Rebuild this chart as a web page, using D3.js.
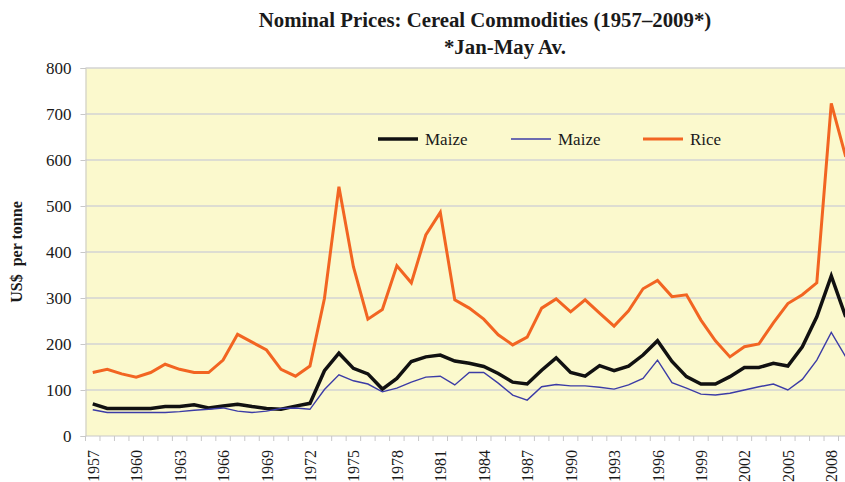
<!DOCTYPE html>
<html>
<head>
<meta charset="utf-8">
<script src="https://cdn.jsdelivr.net/npm/d3@7/dist/d3.min.js"></script>
<style>
  html, body { margin: 0; padding: 0; background: #fff; }
  svg { display: block; }
  text { font-family: "Liberation Serif", "Times New Roman", serif; fill: #1a1a1a; }
</style>
</head>
<body>
<svg id="chart" width="845" height="482"></svg>
<script>
// Annual nominal prices, US$ per tonne (2009 = Jan–May average)
const years = d3.range(1957, 2010);

const maizeA = [70, 60, 60, 60, 60, 64, 64, 68, 61, 65, 69, 64, 60, 58, 65, 71, 142, 180, 147, 135,
  102, 125, 162, 172, 176, 163, 158, 151, 136, 117, 113, 143, 170, 138, 130, 153, 142, 152, 176, 207,
  162, 129, 113, 113, 129, 149, 149, 158, 152, 194, 259, 348, 259];

const maizeB = [57, 51, 51, 51, 51, 51, 53, 56, 58, 61, 54, 51, 54, 60, 61, 58, 101, 133, 120, 113,
  96, 104, 117, 128, 130, 111, 138, 138, 115, 89, 78, 107, 112, 109, 109, 106, 102, 111, 125, 165,
  116, 104, 91, 89, 93, 100, 107, 113, 100, 123, 165, 225, 172];

const rice = [138, 145, 135, 128, 138, 156, 145, 138, 138, 165, 221, 204, 187, 145, 130, 152, 299, 542, 368, 254,
  275, 370, 333, 437, 486, 296, 278, 254, 220, 198, 215, 278, 298, 270, 296, 267, 239, 272, 320, 338,
  303, 307, 252, 207, 172, 194, 200, 246, 288, 307, 333, 723, 607];

const yTicks = [0, 100, 200, 300, 400, 500, 600, 700, 800];
const xTickLabels = years.filter(y => (y - 1957) % 3 === 0 && y <= 2008);

const seriesNames = ["Maize", "Maize", "Rice"];
const seriesColors = ["#111111", "#3c3ca6", "#f26522"];

const svg = d3.select("#chart");
const plot = { left: 85.5, top: 68, right: 853, bottom: 436 };

const x = d3.scaleBand().domain(years).range([plot.left, plot.right]).padding(0);
const y = d3.scaleLinear().domain([0, 800]).range([plot.bottom, plot.top]);
const cx = d => x(d) + x.bandwidth() / 2;

// plot background
svg.append("rect")
  .attr("x", plot.left).attr("y", plot.top)
  .attr("width", plot.right - plot.left).attr("height", plot.bottom - plot.top)
  .attr("fill", "#fbf9cd");

// horizontal gridlines
svg.append("g")
  .selectAll("line")
  .data(yTicks.filter(t => t > 0))
  .join("line")
  .attr("x1", plot.left).attr("x2", plot.right)
  .attr("y1", d => y(d)).attr("y2", d => y(d))
  .attr("stroke", "#d3d3d3").attr("stroke-width", 1.5);

// y axis
const yAxis = svg.append("g")
  .attr("transform", `translate(${plot.left},0)`)
  .call(d3.axisLeft(y).tickValues(yTicks).tickSize(5).tickPadding(9).tickFormat(d3.format("d")));
yAxis.select(".domain").attr("stroke", "#c8c8c8");
yAxis.selectAll(".tick line").attr("stroke", "#c8c8c8");
yAxis.selectAll(".tick text")
  .attr("font-size", 17).attr("fill", "#1a1a1a")
  .style("font-family", '"Liberation Serif", serif');

// x axis: ticks on band edges, labels every third year
const xAxisG = svg.append("g");
xAxisG.append("line")
  .attr("x1", plot.left).attr("x2", plot.right)
  .attr("y1", plot.bottom).attr("y2", plot.bottom)
  .attr("stroke", "#c8c8c8");
xAxisG.selectAll("line.tick")
  .data(years.concat([2010]))
  .join("line")
  .attr("class", "tick")
  .attr("x1", d => d === 2010 ? plot.right : x(d))
  .attr("x2", d => d === 2010 ? plot.right : x(d))
  .attr("y1", plot.bottom).attr("y2", plot.bottom + 5)
  .attr("stroke", "#c8c8c8");
xAxisG.selectAll("text")
  .data(xTickLabels)
  .join("text")
  .attr("transform", d => `translate(${cx(d) + 6},${plot.bottom + 14}) rotate(-90)`)
  .attr("text-anchor", "end")
  .attr("font-size", 16)
  .text(d => d);

// series lines
const line = d3.line().x((d, i) => cx(years[i])).y(d => y(d));
const series = [
  { values: maizeA, color: seriesColors[0], width: 3.5 },
  { values: maizeB, color: seriesColors[1], width: 1.4 },
  { values: rice, color: seriesColors[2], width: 3 }
];
svg.append("g")
  .selectAll("path")
  .data(series)
  .join("path")
  .attr("d", d => line(d.values))
  .attr("fill", "none")
  .attr("stroke", d => d.color)
  .attr("stroke-width", d => d.width)
  .attr("stroke-linejoin", "miter");

// legend
const legendX = [378, 511, 643];
const legend = svg.append("g").selectAll("g")
  .data(series)
  .join("g")
  .attr("transform", (d, i) => `translate(${legendX[i]},139)`);
legend.append("line")
  .attr("x1", 0).attr("x2", 40)
  .attr("stroke", d => d.color)
  .attr("stroke-width", d => d.width);
legend.append("text")
  .attr("x", 47).attr("y", 6)
  .attr("font-size", 17)
  .text((d, i) => seriesNames[i]);

// titles
svg.append("text")
  .attr("x", 485).attr("y", 27)
  .attr("text-anchor", "middle")
  .attr("font-size", 20.8).attr("font-weight", "bold")
  .text("Nominal Prices: Cereal Commodities (1957\u20132009*)");
svg.append("text")
  .attr("x", 505).attr("y", 54)
  .attr("text-anchor", "middle")
  .attr("font-size", 20.8).attr("font-weight", "bold")
  .text("*Jan-May Av.");

svg.append("text")
  .attr("transform", `translate(22,${(plot.top + plot.bottom) / 2}) rotate(-90)`)
  .attr("text-anchor", "middle")
  .attr("font-size", 16).attr("font-weight", "bold")
  .text("US$\u00a0 per tonne");
</script>
</body>
</html>
